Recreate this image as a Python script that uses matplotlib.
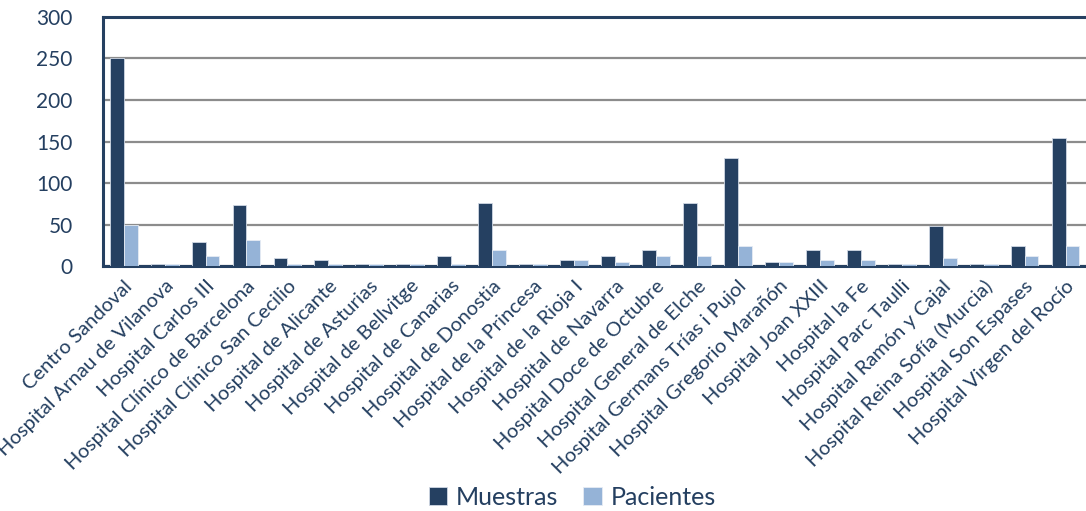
import matplotlib.pyplot as plt
import numpy as np

plt.rcParams['font.family'] = ['Lato', 'DejaVu Sans']

hospitales = [
    "Centro Sandoval", "Hospital Arnau de Vilanova", "Hospital Carlos III",
    "Hospital Clínico de Barcelona", "Hospital Clínico San Cecilio",
    "Hospital de Alicante", "Hospital de Asturias", "Hospital de Bellvitge",
    "Hospital de Canarias", "Hospital de Donostia", "Hospital de la Princesa",
    "Hospital de la Rioja I", "Hospital de Navarra", "Hospital Doce de Octubre",
    "Hospital General de Elche", "Hospital Germans Trías i Pujol",
    "Hospital Gregorio Marañón", "Hospital Joan XXIII", "Hospital la Fe",
    "Hospital Parc Taulli", "Hospital Ramón y Cajal",
    "Hospital Reina Sofía (Murcia)", "Hospital Son Espases",
    "Hospital Virgen del Rocío",
]
muestras = [250, 3, 29, 74, 10, 8, 3, 3, 12, 76, 3, 8, 12, 20, 76, 130,
            5, 20, 20, 3, 48, 3, 24, 154]
pacientes = [50, 3, 12, 31, 3, 3, 3, 3, 3, 20, 3, 8, 5, 12, 12, 24,
             5, 8, 8, 3, 10, 3, 12, 24]

oscuro = "#254061"
claro = "#95B3D7"
texto = "#243F60"

fig = plt.figure(figsize=(10.86, 5.11), dpi=100)
ax = fig.add_axes([0.095, 0.479, 0.905, 0.488])

x = np.arange(len(hospitales))
w = 0.34
ax.bar(x - w / 2, muestras, w, color=oscuro, edgecolor="#d0d8e4", linewidth=0.6,
       label="Muestras", zorder=3)
ax.bar(x + w / 2, pacientes, w, color=claro, edgecolor="#e6ecf4", linewidth=0.6,
       label="Pacientes", zorder=3)

ax.set_xlim(-0.5, len(hospitales) - 0.5)
ax.set_ylim(0, 300)
ax.set_yticks(range(0, 301, 50))
ax.yaxis.grid(True, color="#8c8c8c", linewidth=1.6, zorder=0)
ax.set_axisbelow(True)

for s in ["left", "top", "bottom"]:
    ax.spines[s].set_color(oscuro)
    ax.spines[s].set_linewidth(2.2)
ax.spines["right"].set_visible(False)

ax.tick_params(axis="both", length=0, colors=texto)
ax.tick_params(axis="y", labelsize=15, pad=22)
ax.set_xticks(x)
ax.set_xticklabels(hospitales, rotation=45, ha="right", va="top",
                   rotation_mode="anchor", fontsize=14.5, color=texto)
ax.tick_params(axis="x", pad=8)

leg = fig.legend(loc="lower center", bbox_to_anchor=(0.527, -0.015), ncol=2,
                 frameon=False, fontsize=18, handlelength=0.75, handleheight=0.75,
                 handletextpad=0.35, columnspacing=1.0, borderaxespad=0)
for t in leg.get_texts():
    t.set_color(texto)

fig.savefig("out.png", dpi=100)
